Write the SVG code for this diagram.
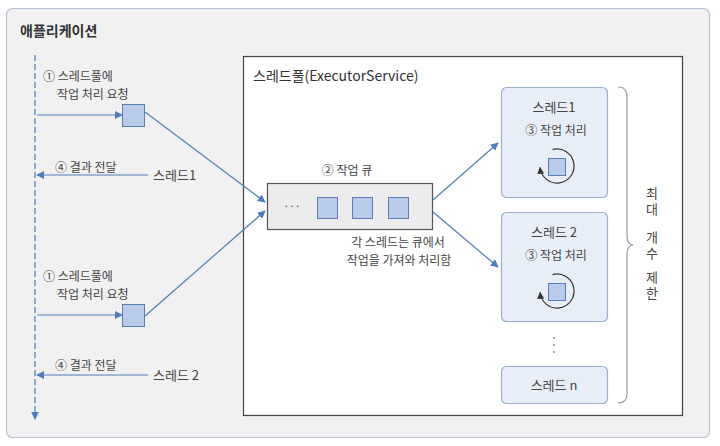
<svg xmlns="http://www.w3.org/2000/svg" width="720" height="446" viewBox="0 0 720 446">
<defs>
<style>
.t{font-family:"Noto Sans CJK KR","Noto Sans",sans-serif;font-size:12px;fill:#444}
.c{text-anchor:middle}
.v{font-family:"Noto Sans CJK KR","Noto Sans",sans-serif;font-size:13px;fill:#444;writing-mode:vertical-rl;letter-spacing:3px}
.ln{stroke:#4f7cba;stroke-width:1.2;fill:none}
.sq{fill:#b9cbe8;stroke:#5a7db5;stroke-width:1}
.th{fill:#e8eef7;stroke:#9bb0d0;stroke-width:1.2}
</style>
<marker id="ah" viewBox="0 0 10 10" refX="9" refY="5" markerWidth="8" markerHeight="8" markerUnits="userSpaceOnUse" orient="auto">
<path d="M0,0 L10,5 L0,10 Z" fill="#4f7cba"/>
</marker>
<marker id="ak" viewBox="0 0 10 10" refX="9" refY="5" markerWidth="7" markerHeight="7" markerUnits="userSpaceOnUse" orient="auto">
<path d="M0,0 L10,5 L0,10 Z" fill="#333"/>
</marker>
</defs>
<rect width="720" height="446" fill="#ffffff"/>
<g id="app">
<rect x="6.5" y="8.5" width="703" height="429" rx="6" fill="#f1f1f2" stroke="#b4c2d6" stroke-width="1.2"/>
<text x="20" y="36" class="t" style="font-size:14px;font-weight:bold;fill:#333">애플리케이션</text>
</g>
<g id="pool">
<rect x="243.5" y="56.5" width="439" height="359" fill="#ffffff" stroke="#444" stroke-width="1.2"/>
<text x="253" y="81" class="t" style="font-size:14px;fill:#333">스레드풀(ExecutorService)</text>
</g>
<g id="req1">
<text x="43" y="81" class="t">① 스레드풀에</text>
<text x="57" y="99" class="t">작업 처리 요청</text>
<rect x="122.5" y="104.5" width="22" height="22" class="sq"/>
</g>
<g id="res1">
<text x="55" y="172" class="t">④ 결과 전달</text>
<text x="153" y="180" class="t" style="font-size:13px">스레드1</text>
</g>
<g id="req2">
<text x="43" y="281" class="t">① 스레드풀에</text>
<text x="57" y="299" class="t">작업 처리 요청</text>
<rect x="122.5" y="304.5" width="22" height="22" class="sq"/>
</g>
<g id="res2">
<text x="55" y="370" class="t">④ 결과 전달</text>
<text x="153" y="380" class="t" style="font-size:13px">스레드 2</text>
</g>
<g id="queue">
<text x="347" y="175" class="t c">② 작업 큐</text>
<rect x="267.5" y="183.5" width="165" height="46" fill="#ececee" stroke="#555" stroke-width="1.2"/>
<text x="292" y="210" class="t c" style="font-size:10px">···</text>
<rect x="317.5" y="197.5" width="20" height="21" class="sq"/>
<rect x="352.5" y="197.5" width="20" height="21" class="sq"/>
<rect x="388.5" y="197.5" width="20" height="21" class="sq"/>
<text x="398" y="247" class="t c">각 스레드는 큐에서</text>
<text x="399" y="265" class="t c">작업을 가져와 처리함</text>
</g>
<g id="thread1">
<rect x="501.5" y="87.5" width="106" height="110" rx="5" class="th"/>
<text x="554" y="112" class="t c" style="font-size:13px">스레드1</text>
<text x="556" y="135" class="t c">③ 작업 처리</text>
<rect x="548.5" y="158.5" width="17" height="17" class="sq"/>
<path d="M552.6,149.6 A17,17 0 1 1 540.1,167.5" fill="none" stroke="#333" stroke-width="1.2" marker-end="url(#ak)"/>
</g>
<g id="thread2">
<rect x="501.5" y="212.5" width="106" height="109" rx="5" class="th"/>
<text x="554" y="237" class="t c" style="font-size:13px">스레드 2</text>
<text x="556" y="260" class="t c">③ 작업 처리</text>
<rect x="548.5" y="283.5" width="17" height="17" class="sq"/>
<path d="M552.6,274.6 A17,17 0 1 1 540.1,292.5" fill="none" stroke="#333" stroke-width="1.2" marker-end="url(#ak)"/>
</g>
<g id="dots">
<circle cx="554" cy="338" r="0.9" fill="#888"/>
<circle cx="554" cy="345" r="0.9" fill="#888"/>
<circle cx="554" cy="352" r="0.9" fill="#888"/>
</g>
<g id="threadn">
<rect x="501.5" y="366.5" width="106" height="37" rx="5" class="th"/>
<text x="554" y="390" class="t c" style="font-size:13px">스레드 n</text>
</g>
<g id="limit">
<path d="M618,87 Q627,87 627,96 L627,236 Q627,244 633,245 Q627,246 627,254 L627,394 Q627,403 618,403" fill="none" stroke="#8a9bb0" stroke-width="1.2"/>
<text x="652" y="187" class="v">최대</text>
<text x="652" y="231" class="v">개수</text>
<text x="652" y="271" class="v">제한</text>
</g>
<g id="connectors">
<line x1="35" y1="55" x2="35" y2="419" class="ln" stroke-dasharray="6 3" marker-end="url(#ah)"/>
<line x1="37" y1="115" x2="122" y2="115" class="ln" marker-end="url(#ah)"/>
<line x1="37" y1="315" x2="122" y2="315" class="ln" marker-end="url(#ah)"/>
<line x1="148" y1="175" x2="37" y2="175" class="ln" marker-end="url(#ah)"/>
<line x1="148" y1="375" x2="37" y2="375" class="ln" marker-end="url(#ah)"/>
<line x1="145" y1="112" x2="265" y2="202" class="ln" marker-end="url(#ah)"/>
<line x1="145" y1="316" x2="265" y2="211" class="ln" marker-end="url(#ah)"/>
<line x1="433" y1="200" x2="498" y2="143" class="ln" marker-end="url(#ah)"/>
<line x1="433" y1="212" x2="498" y2="267" class="ln" marker-end="url(#ah)"/>
</g>
</svg>
